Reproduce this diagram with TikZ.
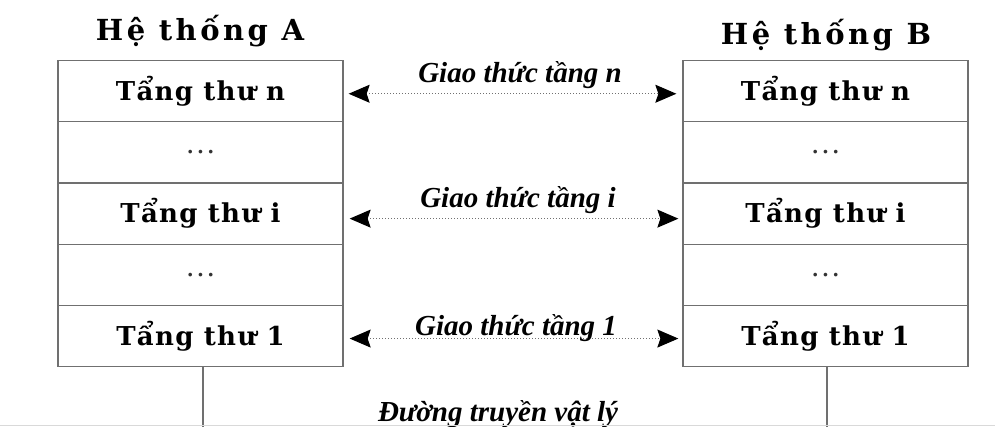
\documentclass[tikz,border=0pt]{standalone}
\usepackage{fontspec}
\setmainfont{DejaVu Serif}
\newfontfamily\titlefont[LetterSpace=12]{DejaVu Serif}
\newfontfamily\rowfont[LetterSpace=5]{DejaVu Serif}
\newfontfamily\labfont{Liberation Serif}
\usetikzlibrary{arrows.meta,calc}
\definecolor{linegray}{HTML}{707070}
\begin{document}
\begin{tikzpicture}[x=1pt,y=-1pt,
  layerbox/.style={draw=linegray, line width=1.3pt, minimum width=285pt,
    minimum height=61.2pt, inner sep=0pt, anchor=north,
    font=\rowfont\bfseries\fontsize{26}{30}\selectfont},
  dotsbox/.style={layerbox, font=\rowfont\fontsize{28}{30}\selectfont, text=black!80},
  titletext/.style={anchor=base, inner sep=0pt, font=\titlefont\bfseries\fontsize{29}{32}\selectfont},
  protolabel/.style={anchor=base, inner sep=0pt, font=\labfont\bfseries\itshape\fontsize{29}{32}\selectfont},
  proto/.style={{Stealth[length=21pt,width=18pt,inset=3pt,color=black,fill=black]}-{Stealth[length=21pt,width=18pt,inset=3pt,color=black,fill=black]},
    draw=linegray, line width=1.1pt, dash pattern=on 1pt off 2pt},
  wire/.style={draw=linegray, line width=1.3pt}]
\useasboundingbox (0,0) rectangle (995,427);
\fill[white] (0,0) rectangle (995,427);

% titles
\node[titletext] (TA) at (200,41) {Hệ thống A};
\node[titletext] (TB) at (826,45) {Hệ thống B};

% system A
\node[layerbox] (An) at (200.5,60) {Tẩng thư n};
\node[dotsbox]  (Ad1) at (200.5,121.2) {...};
\node[layerbox] (Ai) at (200.5,182.4) {Tẩng thư i};
\node[dotsbox]  (Ad2) at (200.5,243.6) {...};
\node[layerbox] (A1) at (200.5,304.8) {Tẩng thư 1};

% system B
\node[layerbox] (Bn) at (825.5,60) {Tẩng thư n};
\node[dotsbox]  (Bd1) at (825.5,121.2) {...};
\node[layerbox] (Bi) at (825.5,182.4) {Tẩng thư i};
\node[dotsbox]  (Bd2) at (825.5,243.6) {...};
\node[layerbox] (B1) at (825.5,304.8) {Tẩng thư 1};

% protocol arrows
\draw[proto] ($(An.east)+(5,2.5)$) -- ($(Bn.west)+(-6,2.5)$);
\draw[proto] ($(Ai.east)+(6,5)$) -- ($(Bi.west)+(-4,5)$);
\draw[proto] ($(A1.east)+(6,2.5)$) -- ($(B1.west)+(-4,2.5)$);

\node[protolabel] (Ln) at ($(An.east)!0.5!(Bn.west)+(7,-8.5)$) {Giao thức tầng n};
\node[protolabel] (Li) at ($(Ai.east)!0.5!(Bi.west)+(5,-6)$) {Giao thức tầng i};
\node[protolabel] (L1) at ($(A1.east)!0.5!(B1.west)+(3,-0.5)$) {Giao thức tầng 1};

% physical medium
\coordinate (AE) at (203,427);
\coordinate (BE) at (827,427);
\draw[wire] (A1.south -| AE) -- (AE);
\draw[wire] (B1.south -| BE) -- (BE);
\node[protolabel, font=\labfont\bfseries\itshape\fontsize{29}{30}\selectfont] (Phy) at (498,421) {Đường truyền vật lý};
\coordinate (BL) at (0,425.5);
\coordinate (BR) at (995,425.5);
\draw[black!15, line width=1pt] (BL) -- (BR);
\end{tikzpicture}
\end{document}
